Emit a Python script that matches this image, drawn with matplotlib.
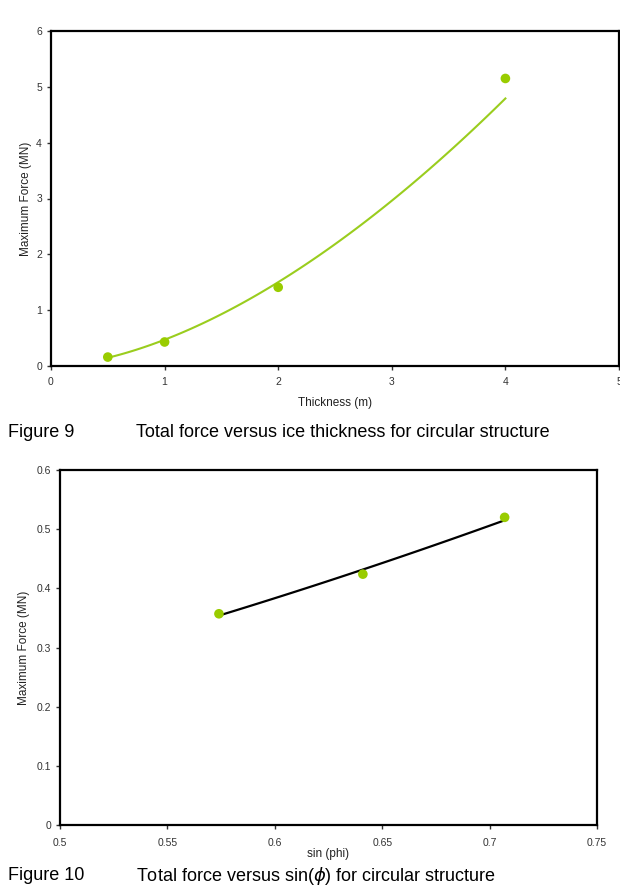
import numpy as np
import matplotlib
matplotlib.use("Agg")
import matplotlib.pyplot as plt

plt.rcParams['font.family'] = ['Liberation Sans', 'DejaVu Sans']

# Figure 9 data
thickness = [0.5, 1.0, 2.0, 4.0]
force9 = [0.16, 0.43, 1.41, 5.15]
# Figure 10 data
sinphi = [0.574, 0.641, 0.707]
force10 = [0.357, 0.424, 0.520]

green = '#99cc00'
line_green = '#9acd1e'

fig = plt.figure(figsize=(6.2, 8.93), dpi=100)

def power_fit(x, y):
    b, la = np.polyfit(np.log(x), np.log(y), 1)
    xs = np.linspace(min(x), max(x), 100)
    return xs, np.exp(la) * xs ** b

def style(ax):
    for s in ax.spines.values():
        s.set_linewidth(1.6)
        s.set_color('black')
    ax.tick_params(direction='out', length=3, width=1, labelsize=7.5, colors='#333333')

# Top chart
ax1 = fig.add_axes([51/620, 1-366/893, (619-51)/620, (366-31)/893])
xs, ys = power_fit(thickness, force9)
ax1.plot(xs, ys, color=line_green, lw=1.5, zorder=2)
ax1.scatter(thickness, force9, s=48, color=green, zorder=3, edgecolors='none')
ax1.set_xlim(0, 5)
ax1.set_ylim(0, 6)
ax1.set_xticks([0, 1, 2, 3, 4, 5])
ax1.set_yticks([0, 1, 2, 3, 4, 5, 6])
style(ax1)
ax1.tick_params(axis='x', pad=5)
ax1.set_xlabel('Thickness (m)', fontsize=8.5, labelpad=7, color='#222222')
ax1.set_ylabel('Maximum Force (MN)', fontsize=8.5, labelpad=3, color='#222222')

fig.text(8/620, 1-433/893, 'Figure 9', fontsize=13, va='center', ha='left')
fig.text(136/620, 1-433/893, 'Total force versus ice thickness for circular structure',
         fontsize=13, va='center', ha='left')

# Bottom chart
ax2 = fig.add_axes([60/620, 1-825/893, (597-60)/620, (825-470)/893])
xs2, ys2 = power_fit(sinphi, force10)
ax2.plot(xs2, ys2, color='black', lw=1.6, zorder=2)
ax2.scatter(sinphi, force10, s=48, color=green, zorder=3, edgecolors='none')
ax2.set_xlim(0.5, 0.75)
ax2.set_ylim(0, 0.6)
ax2.set_xticks([0.5, 0.55, 0.6, 0.65, 0.7, 0.75])
ax2.set_xticklabels(['0.5', '0.55', '0.6', '0.65', '0.7', '0.75'])
ax2.set_yticks([0, 0.1, 0.2, 0.3, 0.4, 0.5, 0.6])
ax2.set_yticklabels(['0', '0.1', '0.2', '0.3', '0.4', '0.5', '0.6'])
style(ax2)
ax2.tick_params(axis='x', pad=6)
ax2.set_xlabel('sin (phi)', fontsize=8.5, labelpad=0, color='#222222')
ax2.set_ylabel('Maximum Force (MN)', fontsize=8.5, labelpad=5, color='#222222')

fig.text(8/620, 1-876/893, 'Figure 10', fontsize=13, va='center', ha='left')
fig.text(136/620, 1-876/893, r'Total force versus sin($\phi$) for circular structure',
         fontsize=13, va='center', ha='left')

fig.savefig('out.png', dpi=100)
